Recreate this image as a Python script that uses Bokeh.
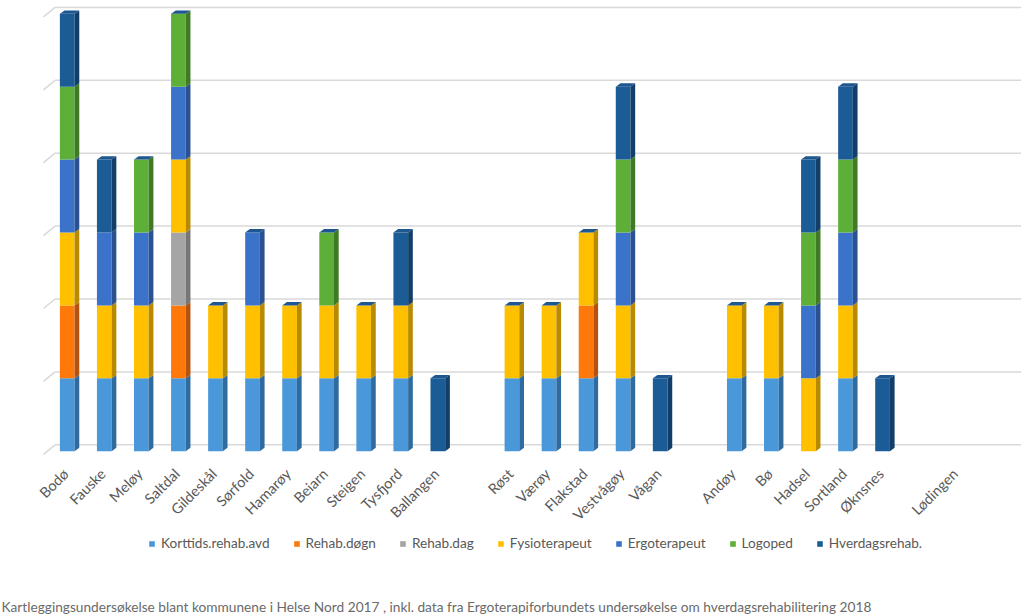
import math
import numpy as np
from bokeh.plotting import figure
from bokeh.models import Range1d, Legend, LegendItem, Label, ColumnDataSource
from bokeh.embed import file_html
from bokeh.resources import INLINE
from bokeh.core.properties import value

# ---------------- data ----------------
categories = ["Bodø", "Fauske", "Meløy", "Saltdal", "Gildeskål", "Sørfold", "Hamarøy",
              "Beiarn", "Steigen", "Tysfjord", "Ballangen", "", "Røst", "Værøy",
              "Flakstad", "Vestvågøy", "Vågan", "", "Andøy", "Bø", "Hadsel",
              "Sortland", "Øknsnes", "", "Lødingen", ""]

series_names = ["Korttids.rehab.avd", "Rehab.døgn", "Rehab.dag", "Fysioterapeut",
                "Ergoterapeut", "Logoped", "Hverdagsrehab."]

korttids = [1, 1, 1, 1, 1, 1, 1, 1, 1, 1, 0, 0, 1, 1, 1, 1, 0, 0, 1, 1, 0, 1, 0, 0, 0, 0]
dogn     = [1, 0, 0, 1, 0, 0, 0, 0, 0, 0, 0, 0, 0, 0, 1, 0, 0, 0, 0, 0, 0, 0, 0, 0, 0, 0]
dag      = [0, 0, 0, 1, 0, 0, 0, 0, 0, 0, 0, 0, 0, 0, 0, 0, 0, 0, 0, 0, 0, 0, 0, 0, 0, 0]
fysio    = [1, 1, 1, 1, 1, 1, 1, 1, 1, 1, 0, 0, 1, 1, 1, 1, 0, 0, 1, 1, 1, 1, 0, 0, 0, 0]
ergo     = [1, 1, 1, 1, 0, 1, 0, 0, 0, 0, 0, 0, 0, 0, 0, 1, 0, 0, 0, 0, 1, 1, 0, 0, 0, 0]
logoped  = [1, 0, 1, 1, 0, 0, 0, 1, 0, 0, 0, 0, 0, 0, 0, 1, 0, 0, 0, 0, 1, 1, 0, 0, 0, 0]
hverdags = [1, 1, 0, 0, 0, 0, 0, 0, 0, 1, 1, 0, 0, 0, 0, 1, 1, 0, 0, 0, 1, 1, 1, 0, 0, 0]

gridline_values = [0, 1, 2, 3, 4, 5, 6]

footer = ("Kartleggingsundersøkelse blant kommunene i Helse Nord 2017 , inkl. data fra "
          "Ergoterapiforbundets undersøkelse om hverdagsrehabilitering 2018")

# ---------------- style ----------------
front_colors = ["#4A98DA", "#FF780A", "#A5A5A5", "#FFC000", "#3B73CB", "#5EAF37", "#1B5C97"]
side_colors  = ["#2F6B9E", "#B45210", "#767676", "#B88A00", "#2A5292", "#3F7A24", "#123F69"]
cap_color = "#1E5690"

FONT = "Lato"
TXT = "#595959"

WID, HEI = 1024, 614
PX_X = 37.06   # pixels per category
PX_Y = 72.9    # pixels per unit
x_start = -0.5 - 48.2 / PX_X
x_end = x_start + WID / PX_X
y_end = 450.7 / PX_Y
y_start = y_end - HEI / PX_Y

W = 14.7 / PX_X          # bar front width
DX = 4.7 / PX_X          # depth offset x
DY = 3.4 / PX_Y          # depth offset y
GY = 6.4 / PX_Y          # back wall offset for gridlines
GX0 = (43 - 48.2) / PX_X - 0.5
GX1 = (54.5 - 48.2) / PX_X - 0.5
GX2 = (1020.5 - 48.2) / PX_X - 0.5
GDIAG = 9.5 / PX_Y

p = figure(width=WID, height=HEI, x_range=Range1d(x_start, x_end),
           y_range=Range1d(y_start, y_end), output_backend="svg",
           toolbar_location=None, x_axis_location=None, y_axis_location=None,
           title=None, min_border=0)
p.outline_line_color = None
p.grid.visible = False
p.background_fill_color = "white"
p.border_fill_color = "white"

# gridlines (back wall) with small diagonal floor edges
gv = np.array(gridline_values, float)
p.segment(x0=[GX1] * len(gv), y0=gv + GY, x1=[GX2] * len(gv), y1=gv + GY,
          line_color="#D9D9D9", line_width=1.5)
p.segment(x0=[GX0] * len(gv), y0=gv + GY - GDIAG, x1=[GX1] * len(gv), y1=gv + GY,
          line_color="#D9D9D9", line_width=1.5)

# stacked 3D-style bars
all_series = [korttids, dogn, dag, fysio, ergo, logoped, hverdags]
n = len(categories)
xpos = np.arange(n, dtype=float)
bottom = np.zeros(n)
items = []
for name, vals, fc, sc in zip(series_names, all_series, front_colors, side_colors):
    v = np.array(vals, float)
    m = v > 0
    xs_, b, t = xpos[m], bottom[m], bottom[m] + v[m]
    r = p.vbar(x=xs_, bottom=b, top=t, width=W, fill_color=fc, line_color=None)
    sxs = [[xi + W / 2, xi + W / 2 + DX, xi + W / 2 + DX, xi + W / 2] for xi in xs_]
    sys_ = [[bi, bi + DY, ti + DY, ti] for bi, ti in zip(b, t)]
    if sxs:
        p.patches(xs=sxs, ys=sys_, fill_color=sc, line_color=None)
    items.append(LegendItem(label=name, renderers=[r]))
    bottom = bottom + v

# top caps
mt = bottom > 0
cx, ct = xpos[mt], bottom[mt]
p.patches(xs=[[xi - W / 2, xi + W / 2, xi + W / 2 + DX, xi - W / 2 + DX] for xi in cx],
          ys=[[ti, ti, ti + DY, ti + DY] for ti in ct],
          fill_color=cap_color, line_color=None)

# category labels (rotated)
lab = ColumnDataSource(dict(x=xpos - 1.5 / PX_X, y=np.full(n, -20.0 / PX_Y),
                            text=categories))
p.text(x="x", y="y", text="text", source=lab, angle=math.pi / 4,
       text_align="right", text_baseline="middle",
       text_font=value(FONT), text_font_size="14.5px", text_color=TXT)

# legend
legend = Legend(items=items, orientation="horizontal", location=(148, 614 - 551),
                glyph_width=7, glyph_height=7, label_standoff=6, spacing=23,
                padding=0, margin=0, border_line_color=None,
                background_fill_alpha=0, label_height=16,
                label_text_font=FONT, label_text_font_size="13.6px",
                label_text_color=TXT)
p.add_layout(legend, "center")

p.add_layout(Label(x=1, y=8, x_units="screen", y_units="screen", text=footer,
                   text_font=FONT, text_font_size="13.7px", text_color="#6a6a6a",
                   text_baseline="middle"))

open("out.html", "w").write(file_html(p, INLINE))
